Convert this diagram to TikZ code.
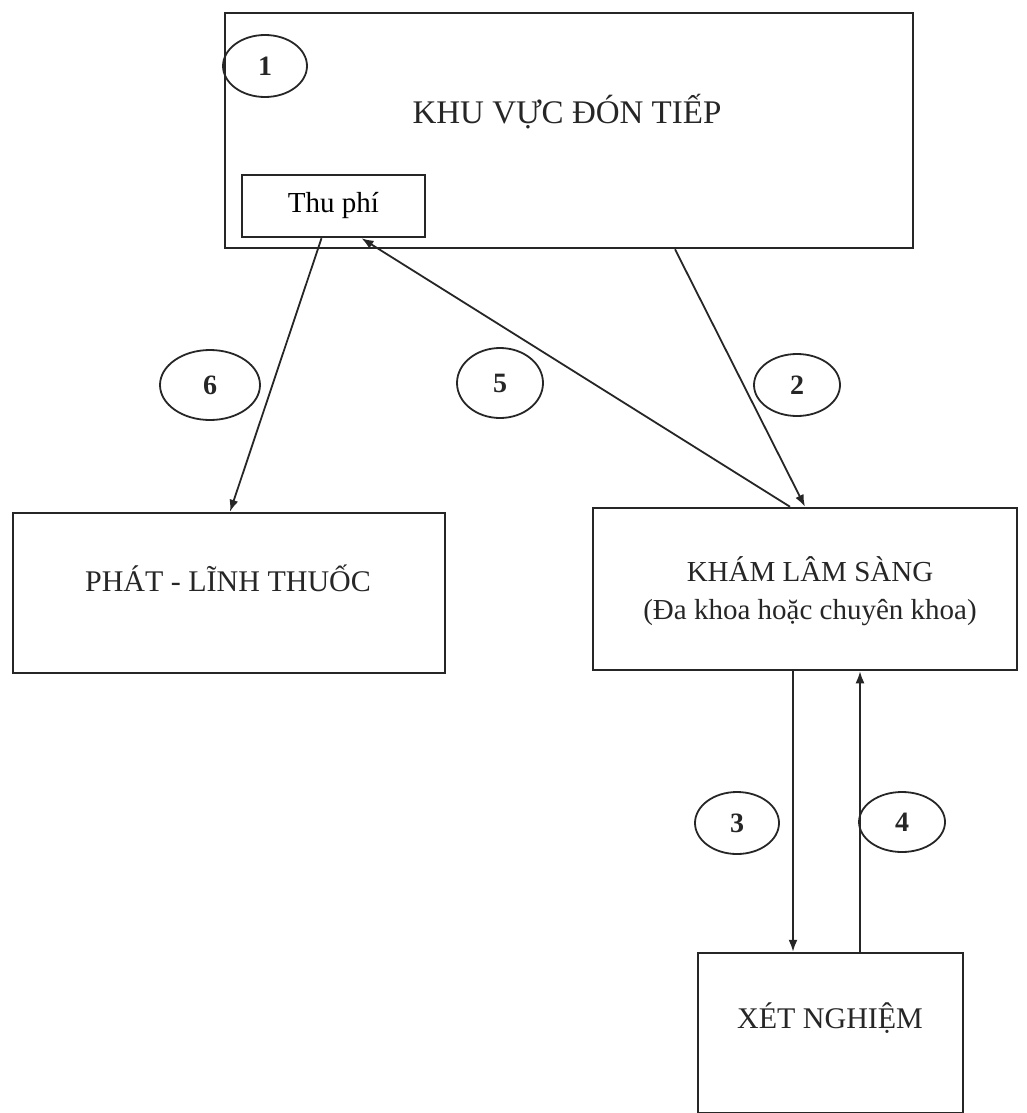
\documentclass[tikz,border=0pt]{standalone}
\usepackage{fontspec}
\setmainfont{Liberation Serif}
\usetikzlibrary{shapes.geometric,arrows.meta,calc}
\tikzset{
  box/.style={draw=black!85,line width=2.5pt,rectangle,inner sep=0pt},
  txt/.style={inner sep=0pt,align=center,text=black!85},
  num/.style={draw=black!85,line width=1.8pt,ellipse,inner sep=0pt,font=\fontsize{28}{30}\selectfont\bfseries,text=black!85},
  arr/.style={draw=black!85,line width=1.8pt,-{Latex[length=12pt,width=9pt]}}
}
\begin{document}
\begin{tikzpicture}[x=1pt,y=-1pt]
\useasboundingbox (0,0) rectangle (1027,1113);
% boxes
\node[box,minimum width=688pt,minimum height=235pt] (recep) at (569,130.5) {};
\node[txt,font=\fontsize{33}{36}\selectfont] (receptxt) at (567,112) {KHU VỰC ĐÓN TIẾP};
\node[box,minimum width=183pt,minimum height=62pt,font=\fontsize{29}{32}\selectfont] (thu) at (333.5,206) {Thu phí};
\node[box,minimum width=432pt,minimum height=160pt] (phat) at (229,593) {};
\node[txt,font=\fontsize{30}{33}\selectfont] (phattxt) at (228,578) {PHÁT - LĨNH THUỐC};
\node[box,minimum width=424pt,minimum height=162pt] (kham) at (805,589) {};
\node[txt,font=\fontsize{29}{38}\selectfont] (khamtxt) at (810,591) {KHÁM LÂM SÀNG\\(Đa khoa hoặc chuyên khoa)};
\node[box,minimum width=265pt,minimum height=160pt] (xet) at (830.5,1033) {};
\node[txt,font=\fontsize{30}{33}\selectfont] (xettxt) at (830,1018) {XÉT NGHIỆM};
% numbered ellipses
\node[num,minimum width=84pt,minimum height=62pt] (n1) at (265,66) {1};
\node[num,minimum width=86pt,minimum height=62pt] (n2) at (797,385) {2};
\node[num,minimum width=84pt,minimum height=62pt] (n3) at (737,823) {3};
\node[num,minimum width=86pt,minimum height=60pt] (n4) at (902,822) {4};
\node[num,minimum width=86pt,minimum height=70pt] (n5) at (500,383) {5};
\node[num,minimum width=100pt,minimum height=70pt] (n6) at (210,385) {6};
% connectors
\draw[arr] ([xshift=-12pt]thu.south) -- ([xshift=1pt]phat.north);
\draw[arr] ([xshift=-15pt]kham.north) -- ([xshift=28pt]thu.south);
\draw[arr] ([xshift=106pt]recep.south) -- (kham.north);
\draw[arr] ([xshift=-12pt]kham.south) -- ([xshift=-12pt]kham.south |- xet.north);
\draw[arr] ([xshift=55pt]kham.south |- xet.north) -- ([xshift=55pt]kham.south);
\end{tikzpicture}
\end{document}
